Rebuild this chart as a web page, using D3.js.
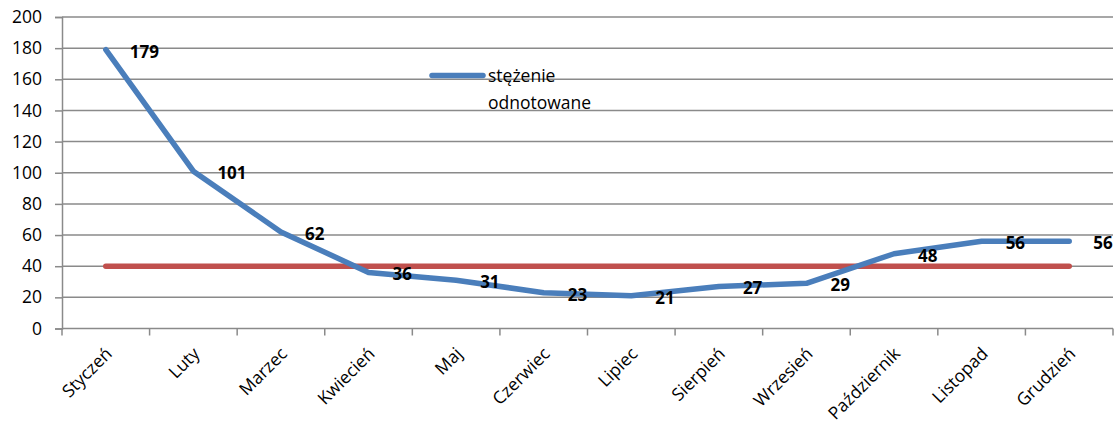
<!DOCTYPE html>
<html>
<head>
<meta charset="utf-8">
<script src="https://cdn.jsdelivr.net/npm/d3@7"></script>
<style>
  html, body { margin: 0; padding: 0; background: #fff; }
  svg { display: block; font-family: "Open Sans", sans-serif; }
</style>
</head>
<body>
<svg id="chart" width="1119" height="425"></svg>
<script>
// Monthly measured concentration vs. the permitted limit
const months = ["Styczeń", "Luty", "Marzec", "Kwiecień", "Maj", "Czerwiec",
                "Lipiec", "Sierpień", "Wrzesień", "Październik", "Listopad", "Grudzień"];
const measured = [179, 101, 62, 36, 31, 23, 21, 27, 29, 48, 56, 56];
const limit = [40, 40, 40, 40, 40, 40, 40, 40, 40, 40, 40, 40];
const yTicks = [0, 20, 40, 60, 80, 100, 120, 140, 160, 180, 200];
const legendLines = ["stężenie", "odnotowane"];

const svg = d3.select("#chart");
const plotLeft = 62, plotRight = 1113, plotTop = 17, plotBottom = 328.5;

const x = d3.scaleBand().domain(months).range([plotLeft, plotRight]);
const y = d3.scaleLinear().domain([0, 200]).range([plotBottom, plotTop]);
const cx = m => x(m) + x.bandwidth() / 2;

const grey = "#8a8a8a";

// horizontal gridlines
svg.append("g")
  .selectAll("line")
  .data(yTicks.filter(t => t > 0))
  .join("line")
  .attr("x1", plotLeft).attr("x2", plotRight)
  .attr("y1", d => y(d)).attr("y2", d => y(d))
  .attr("stroke", grey).attr("stroke-width", 1.5);

// y axis
const yAxis = svg.append("g")
  .attr("transform", `translate(${plotLeft},0)`)
  .call(d3.axisLeft(y).tickValues(yTicks).tickSize(7).tickPadding(13));
yAxis.select(".domain").attr("stroke", grey).attr("stroke-width", 1.5);
yAxis.selectAll(".tick line").attr("stroke", grey).attr("stroke-width", 1.5);
yAxis.selectAll(".tick text")
  .attr("font-family", "Open Sans, sans-serif")
  .attr("font-size", 17.5)
  .attr("fill", "#000");

// x axis with ticks at category boundaries
const xAxisG = svg.append("g");
xAxisG.append("line")
  .attr("x1", plotLeft).attr("x2", plotRight)
  .attr("y1", plotBottom).attr("y2", plotBottom)
  .attr("stroke", grey).attr("stroke-width", 1.5);
xAxisG.selectAll("line.tk")
  .data(months.map(m => x(m)).concat([plotRight]))
  .join("line").attr("class", "tk")
  .attr("x1", d => d).attr("x2", d => d)
  .attr("y1", plotBottom).attr("y2", plotBottom + 7)
  .attr("stroke", grey).attr("stroke-width", 1.5);

xAxisG.selectAll("text")
  .data(months)
  .join("text")
  .attr("transform", d => `translate(${cx(d) + 3},${plotBottom + 22}) rotate(-45)`)
  .attr("text-anchor", "end")
  .attr("dy", "0.35em")
  .attr("font-size", 17.5)
  .attr("fill", "#000")
  .text(d => d);

// limit line
const line = d3.line().x((d, i) => cx(months[i])).y(d => y(d));
svg.append("path")
  .datum(limit)
  .attr("d", line)
  .attr("fill", "none")
  .attr("stroke", "#c0504d")
  .attr("stroke-width", 5.5)
  .attr("stroke-linecap", "round");

// measured series
svg.append("path")
  .datum(measured)
  .attr("d", line)
  .attr("fill", "none")
  .attr("stroke", "#4a7ebb")
  .attr("stroke-width", 5.5)
  .attr("stroke-linecap", "round")
  .attr("stroke-linejoin", "round");

// value labels to the right of each point
svg.append("g")
  .selectAll("text")
  .data(measured)
  .join("text")
  .attr("x", (d, i) => cx(months[i]) + 24)
  .attr("y", d => y(d) + 2)
  .attr("dy", "0.35em")
  .attr("font-size", 17)
  .attr("font-weight", "bold")
  .attr("fill", "#000")
  .text(d => d);

// legend
const lg = svg.append("g");
lg.append("line")
  .attr("x1", 432).attr("x2", 483)
  .attr("y1", 75.5).attr("y2", 75.5)
  .attr("stroke", "#4a7ebb").attr("stroke-width", 5.5)
  .attr("stroke-linecap", "round");
lg.selectAll("text")
  .data(legendLines)
  .join("text")
  .attr("x", 488)
  .attr("y", (d, i) => 76 + i * 27)
  .attr("dy", "0.35em")
  .attr("font-size", 17.5)
  .attr("fill", "#000")
  .text(d => d);
</script>
</body>
</html>
